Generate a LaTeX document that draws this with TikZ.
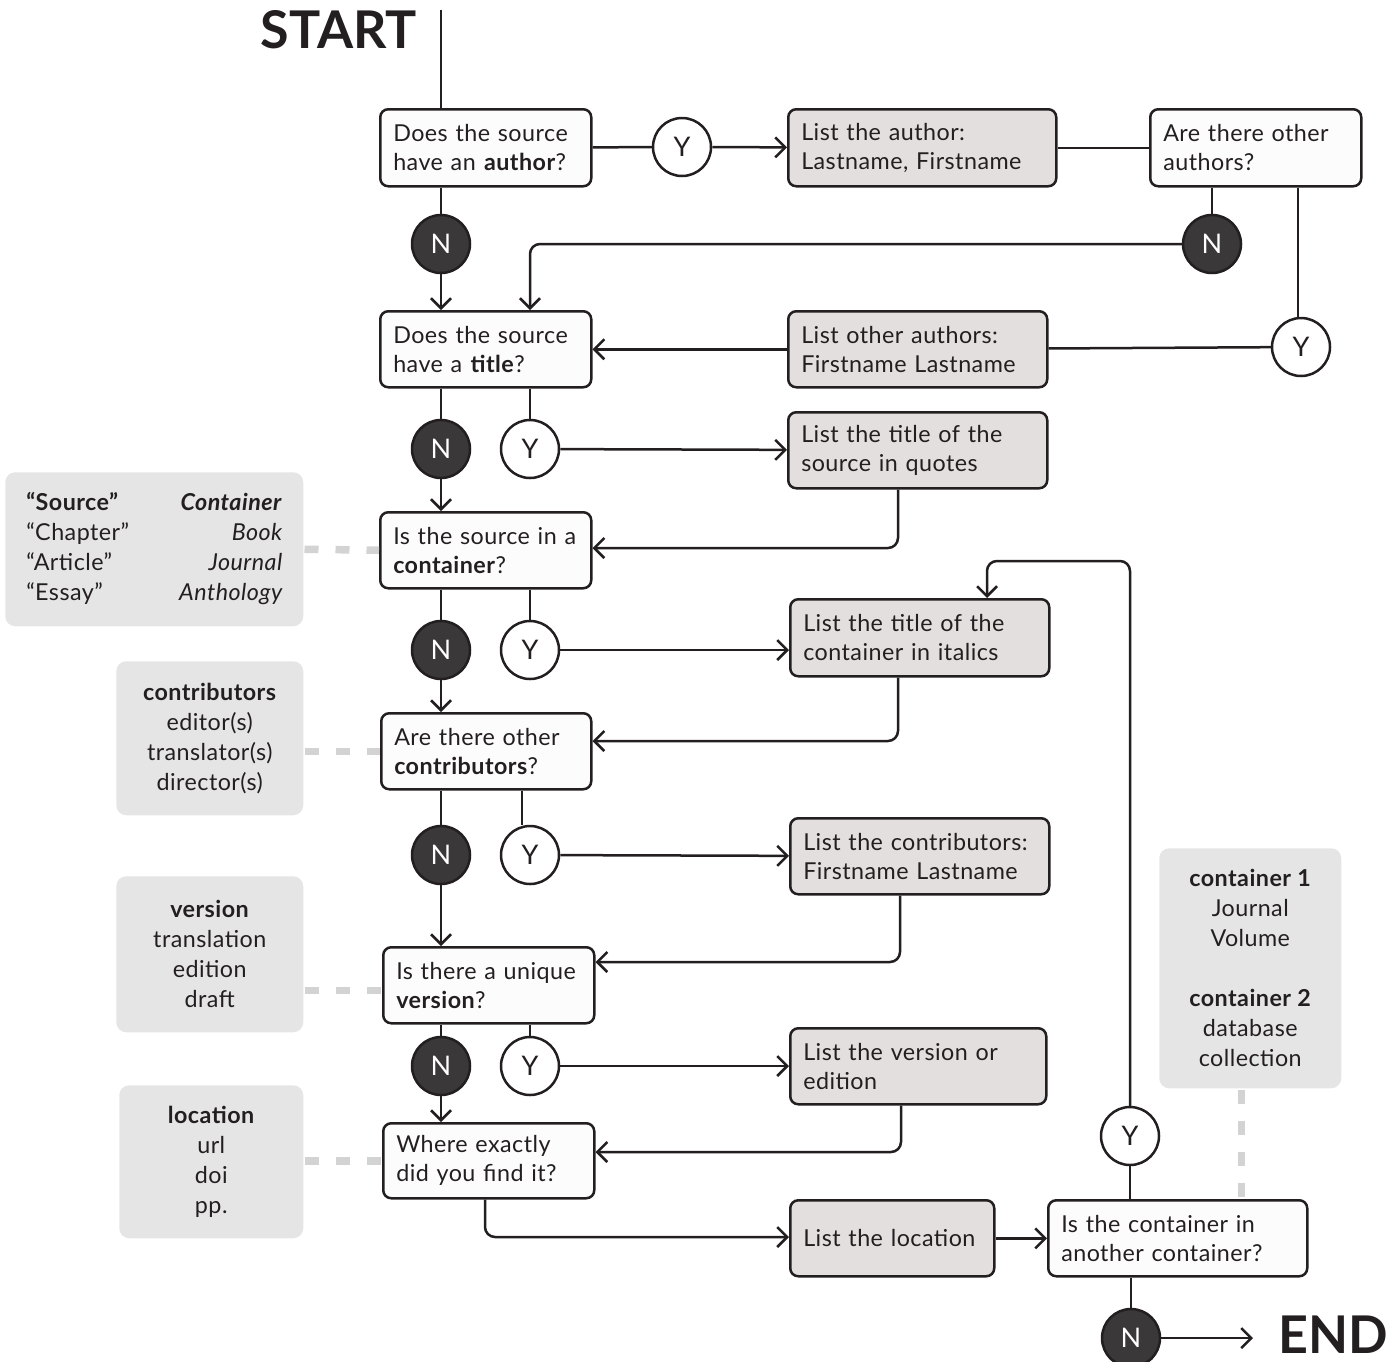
\documentclass[tikz,border=0pt]{standalone}
\usepackage{fontspec}
\setmainfont{Lato}[LetterSpace=2]
\newfontfamily\titlefont{Lato}
\usetikzlibrary{arrows.meta}
\definecolor{ink}{HTML}{231F20}
\definecolor{listfill}{HTML}{E3DFDF}
\definecolor{sidefill}{HTML}{E6E5E6}
\definecolor{dashgray}{HTML}{D4D3D4}
\definecolor{nfill}{HTML}{3A3839}
\definecolor{qfill}{HTML}{FDFCFC}
\begin{document}
\begin{tikzpicture}[x=1pt,y=-1pt,line width=2.5pt,draw=ink,text=ink,
  boxbase/.style={draw=ink,rounded corners=8pt,inner xsep=13pt,inner ysep=0pt,anchor=north west,align=left,font=\fontsize{23.3}{29}\selectfont},
  qbox/.style={boxbase,fill=qfill},
  lbox/.style={boxbase,fill=listfill},
  sidebox/.style={fill=sidefill,rounded corners=10pt,anchor=north west,inner sep=0pt,align=center,font=\fontsize{23.3}{30}\selectfont},
  ycirc/.style={circle,draw=ink,fill=white,minimum size=58pt,inner sep=0pt,font=\titlefont\fontsize{27}{27}\selectfont},
  ncirc/.style={circle,draw=ink,fill=nfill,text=white,minimum size=58pt,inner sep=0pt,font=\titlefont\fontsize{27}{27}\selectfont},
  arr/.style={-{Straight Barb[length=10pt,width=20pt,line width=2.5pt]}},
  link/.style={rounded corners=10pt},
  sidedash/.style={draw=dashgray,line width=7.5pt,dash pattern=on 14pt off 17pt},
  bigtitle/.style={inner sep=0pt,font=\titlefont\fontsize{52}{52}\selectfont\bfseries},
]
\useasboundingbox (0,0) rectangle (1397,1361);

% title texts
\node[bigtitle,anchor=base east] (start) at (418,48) {START};
\node[bigtitle,anchor=base west] (end) at (1277,1353) {END};
\coordinate (st) at (441,10);

% question boxes
\node[qbox,minimum width=211pt,minimum height=77pt,text width=185pt] (q1) at (379,108) {Does the source\\have an \textbf{author}?};
\node[qbox,minimum width=211pt,minimum height=77pt,text width=185pt] (q2) at (1149,108) {Are there other\\authors?};
\node[qbox,minimum width=211pt,minimum height=76pt,text width=185pt] (q3) at (379,310) {Does the source\\have a \textbf{title}?};
\node[qbox,minimum width=211pt,minimum height=76pt,text width=185pt] (q4) at (379,511) {Is the source in a\\\textbf{container}?};
\node[qbox,minimum width=210pt,minimum height=76pt,text width=184pt] (q5) at (380,712) {Are there other\\\textbf{contributors}?};
\node[qbox,minimum width=211pt,minimum height=76pt,text width=185pt] (q6) at (382,946) {Is there a unique\\\textbf{version}?};
\node[qbox,minimum width=211pt,minimum height=75pt,text width=185pt] (q7) at (382,1122) {Where exactly\\did you find it?};
\node[qbox,minimum width=259pt,minimum height=76pt,text width=233pt] (q8) at (1047,1199) {Is the container in\\another container?};

% list boxes
\node[lbox,minimum width=268pt,minimum height=77pt,text width=242pt] (a1) at (787,108) {List the author:\\Lastname, Firstname};
\node[lbox,minimum width=259pt,minimum height=76pt,text width=233pt] (a2) at (787,310) {List other authors:\\Firstname Lastname};
\node[lbox,minimum width=259pt,minimum height=76pt,text width=233pt] (a3) at (787,411) {List the title of the\\source in quotes};
\node[lbox,minimum width=259pt,minimum height=77pt,text width=233pt] (a4) at (789,598) {List the title of the\\container in italics};
\node[lbox,minimum width=259pt,minimum height=76pt,text width=233pt] (a5) at (789,817) {List the contributors:\\Firstname Lastname};
\node[lbox,minimum width=256pt,minimum height=76pt,text width=230pt] (a6) at (789,1027) {List the version or\\edition};
\node[lbox,minimum width=204pt,minimum height=76pt,text width=178pt] (a7) at (789,1199) {List the location};

% side boxes
\node[sidebox,minimum width=298pt,minimum height=154pt] (s1) at (4,471) {%
  \begin{tabular*}{256pt}{@{}l@{\extracolsep{\fill}}r@{}}
  \textbf{“Source”} & \textbf{\itshape Container}\\
  “Chapter” & \itshape Book\\
  “Article” & \itshape Journal\\
  “Essay” & \itshape Anthology
  \end{tabular*}};
\node[sidebox,minimum width=187pt,minimum height=154pt] (s2) at (115,660) {\textbf{contributors}\\editor(s)\\translator(s)\\director(s)};
\node[sidebox,minimum width=187pt,minimum height=156pt] (s3) at (115,875) {\textbf{version}\\translation\\edition\\draft};
\node[sidebox,minimum width=184pt,minimum height=153pt] (s4) at (118,1084) {\textbf{location}\\url\\doi\\pp.};
\node[sidebox,minimum width=182pt,minimum height=240pt] (s5) at (1158,847) {\textbf{container 1}\\Journal\\Volume\\[30pt]\textbf{container 2}\\database\\collection};

% circles
\node[ycirc] (y1) at (682,147) {Y};
\node[ncirc] (n1) at (441,244) {N};
\node[ncirc] (n2) at (1212,244) {N};
\node[ycirc] (y2) at (1301,347) {Y};
\node[ncirc] (n3) at (441,449) {N};
\node[ycirc] (y3) at (530,449) {Y};
\node[ncirc] (n4) at (441,650) {N};
\node[ycirc] (y4) at (530,650) {Y};
\node[ncirc] (n5) at (441,855) {N};
\node[ycirc] (y5) at (530,855) {Y};
\node[ncirc] (n6) at (441,1066) {N};
\node[ycirc] (y6) at (530,1066) {Y};
\node[ycirc] (y8) at (1130,1136) {Y};
\node[ncirc] (n8) at (1131,1338) {N};

% helper coordinates
\coordinate (c3) at (898,548);
\coordinate (c4) at (898,741);
\coordinate (c5) at (900,962);
\coordinate (c6) at (901,1152);
\coordinate (c7) at (485,1237);
\coordinate (c9) at (987,561);
\coordinate (x5) at (522,0);
\coordinate (x2) at (1298,0);

% side dashes
\draw[sidedash] (s1.east) -- (q4.west);
\draw[sidedash] (q5.west -| s2.east) -- (q5.west);
\draw[sidedash] ([yshift=-5pt]q6.west -| s3.east) -- ([yshift=-5pt]q6.west);
\draw[sidedash] (q7.west -| s4.east) -- (q7.west);
\draw[sidedash] ([xshift=-9pt]s5.south) -- ([xshift=-9pt]s5.south |- q8.north);

% connectors
\draw (st) -- (st |- q1.north);
\draw (q1) -- (y1);
\draw[arr] (y1) -- (a1);
\draw (a1) -- (q2);
\draw (n2 |- q2.south) -- (n2);
\draw[arr,link] (n2) -- (y3 |- n2) -- (y3 |- q3.north);
\draw (x2 |- q2.south) -- (x2 |- y2.north);
\draw (y2) -- (a2);
\draw[arr] (a2) -- (q3);
\draw (n1 |- q1.south) -- (n1);
\draw[arr] (n1) -- (n1 |- q3.north);

\draw (n3 |- q3.south) -- (n3);
\draw (y3 |- q3.south) -- (y3);
\draw[arr] (y3) -- (a3);
\draw[arr] (n3) -- (n3 |- q4.north);
\draw[arr,link] (a3.south -| c3) -- (c3) -- (c3 -| q4.east);

\draw (n4 |- q4.south) -- (n4);
\draw (y4 |- q4.south) -- (y4);
\draw[arr] (y4) -- (y4 -| a4.west);
\draw[arr] (n4) -- (n4 |- q5.north);
\draw[arr,link] (a4.south -| c4) -- (c4) -- (c4 -| q5.east);

\draw (n5 |- q5.south) -- (n5);
\draw (x5 |- q5.south) -- (x5 |- y5.north);
\draw[arr] (y5) -- (a5);
\draw[arr] (n5) -- (n5 |- q6.north);
\draw[arr,link] (a5.south -| c5) -- (c5) -- (c5 -| q6.east);

\draw (n6 |- q6.south) -- (n6);
\draw (y6 |- q6.south) -- (y6);
\draw[arr] (y6) -- (y6 -| a6.west);
\draw[arr] (n6) -- (n6 |- q7.north);
\draw[arr,link] (a6.south -| c6) -- (c6) -- (c6 -| q7.east);

\draw[arr,link] (q7.south -| c7) -- (c7) -- (c7 -| a7.west);
\draw[arr] (a7) -- (q8);
\draw (y8 |- q8.north) -- (y8);
\draw[arr,link] (y8) -- (y8 |- c9) -- (c9) -- (c9 |- a4.north);
\draw (n8 |- q8.south) -- (n8);
\draw[arr] (n8) -- ([xshift=-24pt]end.west |- n8);
\end{tikzpicture}
\end{document}
